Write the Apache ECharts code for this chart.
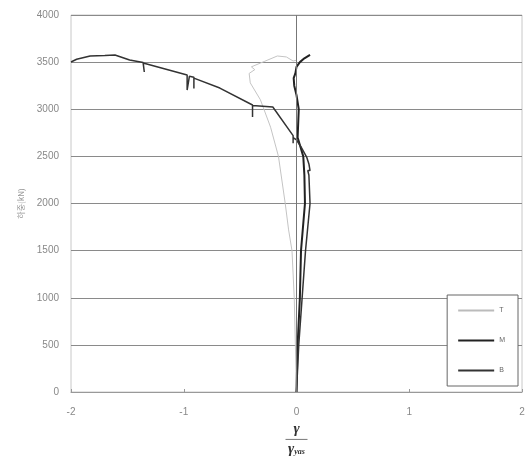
<!DOCTYPE html>
<html><head><meta charset="utf-8">
<script src="https://cdn.jsdelivr.net/npm/echarts@6/dist/echarts.min.js"></script>
<style>html,body{margin:0;padding:0;background:#fff}#c{width:529px;height:468px}</style>
</head><body><div id="c"></div>
<script>
const seriesNames = ['T', 'M', 'B'];
const yTicks = [0, 500, 1000, 1500, 2000, 2500, 3000, 3500, 4000];
const xTicks = [-2, -1, 0, 1, 2];
// [gamma ratio, load kN]
const dataT = [[0,0],[-0.01,500],[-0.02,1000],[-0.04,1500],[-0.07,1720],[-0.1,2000],[-0.16,2500],[-0.23,2810],[-0.32,3100],[-0.41,3280],[-0.42,3380],[-0.37,3420],[-0.40,3450],[-0.32,3490],[-0.28,3510],[-0.17,3565],[-0.09,3555],[-0.03,3512],[0,3520]];
const dataM = [[0,0],[0.01,500],[0.03,1000],[0.04,1500],[0.075,2000],[0.07,2300],[0.06,2500],[0.03,2620],[0.01,2700],[0.02,3000],[0.0,3150],[-0.02,3250],[-0.025,3330],[-0.01,3380],[0.0,3450],[0.03,3500],[0.07,3540],[0.12,3577]];
const dataB = [[0,0],[0.02,500],[0.05,1000],[0.08,1500],[0.12,2000],[0.11,2300],[0.1,2350],[0.12,2350],[0.11,2420],[0.09,2493],[0.04,2600],[0.0,2674],[-0.03,2700],[-0.03,2640],[-0.03,2720],[-0.21,3024],[-0.39,3040],[-0.39,2918],[-0.39,3045],[-0.68,3225],[-0.91,3330],[-0.91,3220],[-0.91,3340],[-0.95,3350],[-0.97,3204],[-0.97,3363],[-1.36,3490],[-1.35,3395],[-1.36,3495],[-1.48,3522],[-1.61,3576],[-1.70,3570],[-1.83,3565],[-1.95,3530],[-2.0,3501]];

const chart = echarts.init(document.getElementById('c'));
const font = 'Liberation Sans, Arial, sans-serif';
const lineIcon = 'path://M0,0 L36,0 L36,2 L0,2 Z';
chart.setOption({
  animation: false,
  grid: {left: 71, right: 7, top: 15, bottom: 76, show: true, borderColor: '#c8c8c8', borderWidth: 1},
  xAxis: {
    type: 'value', min: xTicks[0], max: xTicks[xTicks.length-1], interval: 1,
    axisLine: {show: true, onZero: false, lineStyle: {color: '#999'}},
    axisTick: {show: true, inside: true, length: 3, lineStyle: {color: '#999'}},
    splitLine: {show: false},
    axisLabel: {color: '#888', fontSize: 10, fontFamily: font, margin: 15, formatter: v => String(v)},
    name: '{a|γ}\n{l| }\n{a|γ}{s|yas}',
    nameLocation: 'middle', nameGap: 28,
    nameTextStyle: {
      rich: {
        a: {fontSize: 15, fontWeight: 'bold', fontStyle: 'italic', fontFamily: 'Liberation Serif', color: '#333', lineHeight: 14},
        s: {fontSize: 8, fontWeight: 'bold', fontStyle: 'italic', fontFamily: 'Liberation Serif', color: '#333', verticalAlign: 'bottom', padding: [6,0,0,0]},
        l: {width: 22, height: 1, lineHeight: 6, backgroundColor: '#777', fontSize: 1}
      }
    }
  },
  yAxis: {
    type: 'value', min: 0, max: 4000, interval: 500,
    axisLine: {show: false}, axisTick: {show: false},
    splitLine: {show: true, lineStyle: {color: '#8a8a8a', width: 1}},
    axisLabel: {color: '#888', fontSize: 10, fontFamily: font, margin: 12, formatter: v => String(v)},
    name: '하중(kN)', nameLocation: 'middle', nameGap: 46, nameRotate: 90,
    nameTextStyle: {color: '#999', fontSize: 8, fontFamily: 'Noto Sans CJK KR'}
  },
  legend: {
    orient: 'vertical', right: 11, bottom: 82,
    itemWidth: 36, itemHeight: 2, itemGap: 23,
    padding: [12, 13, 12, 11],
    borderColor: '#666', borderWidth: 1, backgroundColor: '#fff',
    textStyle: {fontSize: 7, color: '#666', fontFamily: font},
    data: [
      {name: seriesNames[0], icon: lineIcon, itemStyle: {color: '#bbb'}},
      {name: seriesNames[1], icon: lineIcon, itemStyle: {color: '#222'}},
      {name: seriesNames[2], icon: lineIcon, itemStyle: {color: '#333'}}
    ]
  },
  series: [
    {name: seriesNames[0], type: 'line', data: dataT, showSymbol: false, symbol: 'none', lineStyle: {color: '#c4c4c4', width: 1}, itemStyle: {color: '#c4c4c4'}, z: 3,
     markLine: {silent: true, symbol: 'none', label: {show: false}, lineStyle: {color: '#777', width: 1, type: 'solid'}, data: [{xAxis: 0}]}},
    {name: seriesNames[1], type: 'line', data: dataM, showSymbol: false, symbol: 'none', lineStyle: {color: '#222', width: 2}, itemStyle: {color: '#222'}, z: 4},
    {name: seriesNames[2], type: 'line', data: dataB, showSymbol: false, symbol: 'none', lineStyle: {color: '#333', width: 1.5}, itemStyle: {color: '#333'}, z: 4}
  ]
});
</script></body></html>
